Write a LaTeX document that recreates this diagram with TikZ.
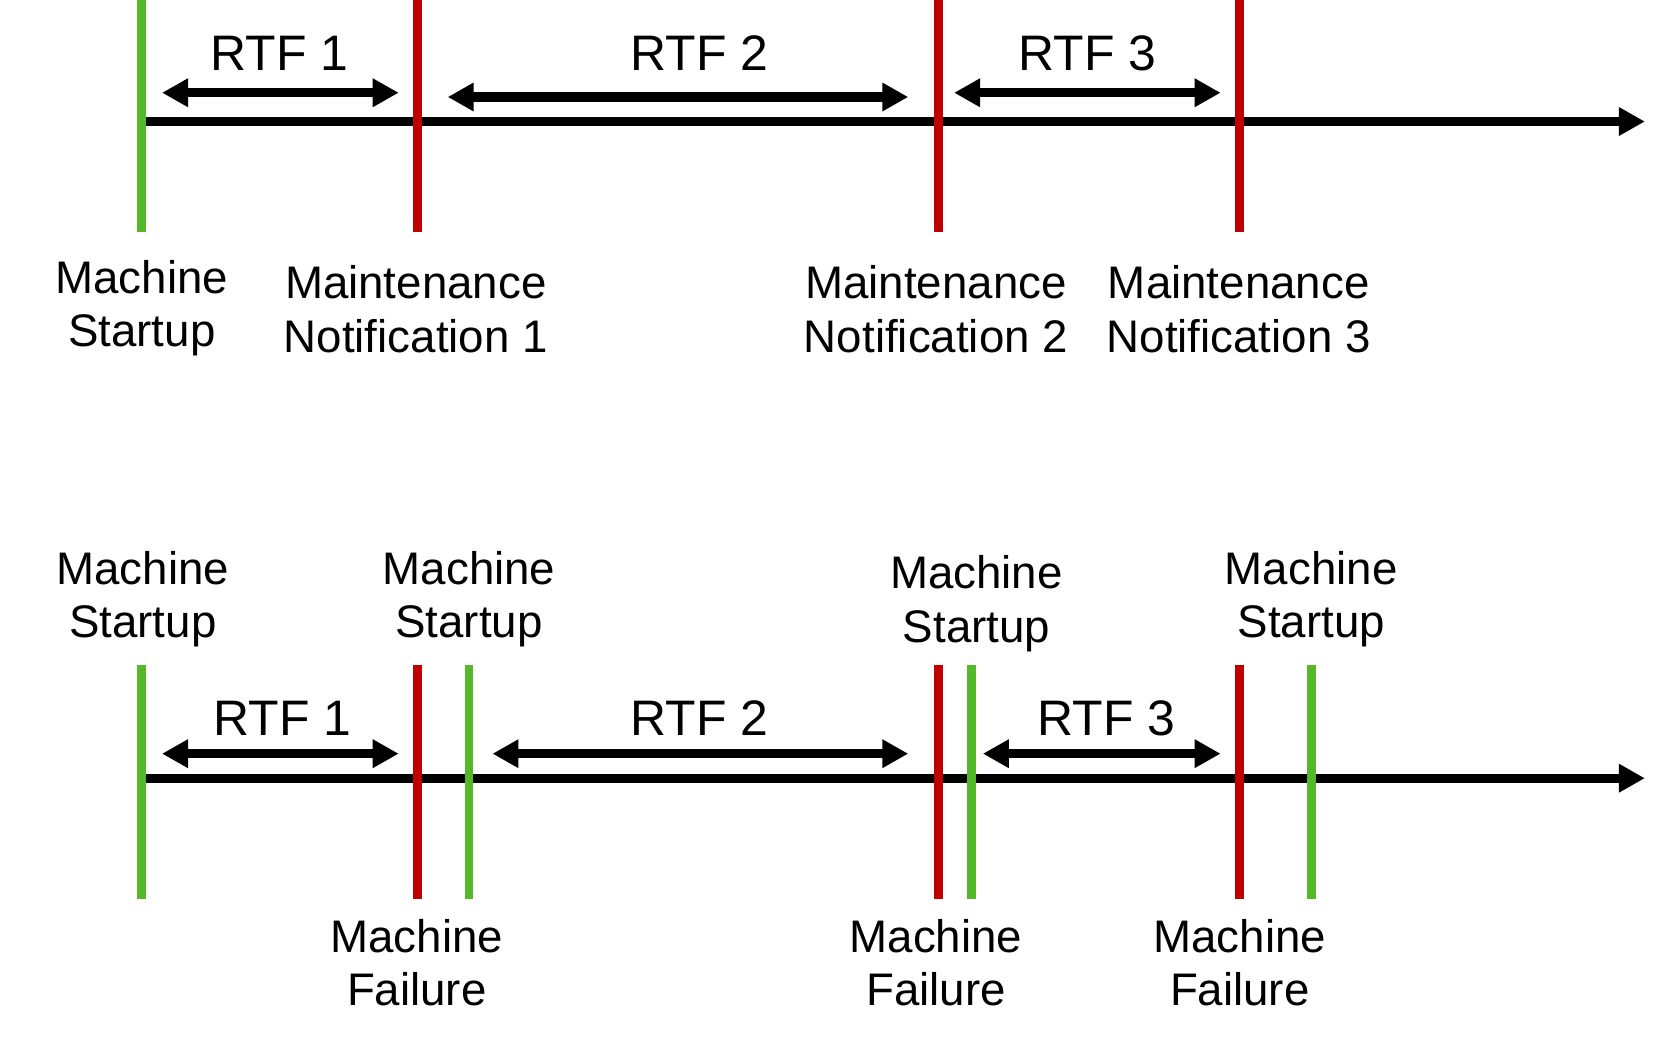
\documentclass[tikz,border=0pt]{standalone}
\usepackage{fontspec}
\setmainfont{Liberation Sans}
\usetikzlibrary{arrows.meta}
\definecolor{startgreen}{RGB}{84,184,40}
\definecolor{failred}{RGB}{192,0,0}

\begin{document}
\begin{tikzpicture}[x=0.01066cm,y=-0.01066cm,
        timeline/.style={line width=2.6pt,-{Triangle[length=0.26cm,width=0.27cm]}},
        rtfspan/.style={line width=2.6pt,{Triangle[length=0.26cm,width=0.27cm]}-{Triangle[length=0.26cm,width=0.27cm]}},
        startline/.style={line width=2.5pt,color=startgreen},
        failline/.style={line width=2.5pt,color=failred},
        evtext/.style={align=center,inner sep=0pt,font=\fontsize{13}{15.3}\selectfont},
        rtftext/.style={inner sep=0pt,font=\fontsize{14.2}{17}\selectfont}]
            \useasboundingbox (0,0) rectangle (1560,977);

            % top: maintenance notifications
            \coordinate (ta0) at (133,114);
            \coordinate (ta1) at (1543,114);
            \draw[timeline] (ta0) -- (ta1);
            \draw[startline] (133,0) -- (133,218);
            \draw[failline] (392,0) -- (392,218);
            \draw[failline] (880,0) -- (880,218);
            \draw[failline] (1163,0) -- (1163,218);

            \coordinate (t1l) at (152,87);
            \coordinate (t1r) at (374,87);
            \coordinate (t2l) at (420,91);
            \coordinate (t2r) at (852,91);
            \coordinate (t3l) at (895,87);
            \coordinate (t3r) at (1145,87);
            \draw[rtfspan] (t1l) -- (t1r);
            \draw[rtfspan] (t2l) -- (t2r);
            \draw[rtfspan] (t3l) -- (t3r);
            \node[rtftext] (trtf1) at (262,50) {RTF 1};
            \node[rtftext] (trtf2) at (656,50) {RTF 2};
            \node[rtftext] (trtf3) at (1020,50) {RTF 3};

            \node[evtext] (tstart) at (133,289) {Machine\\Startup};
            \node[evtext] (tnote1) at (390,290) {Maintenance\\Notification 1};
            \node[evtext] (tnote2) at (878,290) {Maintenance\\Notification 2};
            \node[evtext] (tnote3) at (1162,290) {Maintenance\\Notification 3};

            % bottom: machine failures
            \coordinate (ba0) at (133,730);
            \coordinate (ba1) at (1543,730);
            \draw[timeline] (ba0) -- (ba1);
            \draw[startline] (133,624) -- (133,843);
            \draw[failline] (392,624) -- (392,843);
            \draw[startline] (440,624) -- (440,843);
            \draw[failline] (880,624) -- (880,843);
            \draw[startline] (911,624) -- (911,843);
            \draw[failline] (1163,624) -- (1163,843);
            \draw[startline] (1230,624) -- (1230,843);

            \coordinate (b1l) at (152,707);
            \coordinate (b1r) at (374,707);
            \coordinate (b2l) at (462,707);
            \coordinate (b2r) at (852,707);
            \coordinate (b3l) at (922,707);
            \coordinate (b3r) at (1145,707);
            \draw[rtfspan] (b1l) -- (b1r);
            \draw[rtfspan] (b2l) -- (b2r);
            \draw[rtfspan] (b3l) -- (b3r);
            \node[rtftext] (brtf1) at (265,674) {RTF 1};
            \node[rtftext] (brtf2) at (656,674) {RTF 2};
            \node[rtftext] (brtf3) at (1038,674) {RTF 3};

            \node[evtext] (bstart0) at (134,562) {Machine\\Startup};
            \node[evtext] (bstart1) at (440,562) {Machine\\Startup};
            \node[evtext] (bstart2) at (916,566) {Machine\\Startup};
            \node[evtext] (bstart3) at (1230,562) {Machine\\Startup};
            \node[evtext] (bfail1) at (391,903) {Machine\\Failure};
            \node[evtext] (bfail2) at (878,903) {Machine\\Failure};
            \node[evtext] (bfail3) at (1163,903) {Machine\\Failure};

        \end{tikzpicture}
\end{document}
